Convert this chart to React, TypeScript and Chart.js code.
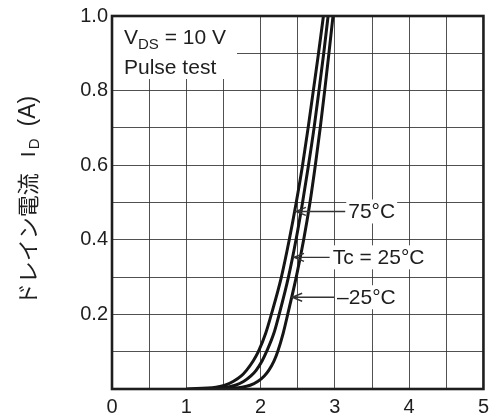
import React, { useEffect, useRef } from 'react';
import { Chart, registerables } from 'chart.js';

Chart.register(...registerables);

const CURRENT_LEVELS = [0, 0.005, 0.01, 0.02, 0.035, 0.05, 0.075, 0.1, 0.15, 0.2, 0.3, 0.4, 0.5, 0.6, 0.7, 0.8, 0.9, 1.0];
// Gate-source voltage (V) for each curve at those current levels
const VGS_75C = [1.0, 1.4, 1.52, 1.63, 1.74, 1.81, 1.9, 1.97, 2.07, 2.145, 2.28, 2.386, 2.48, 2.565, 2.64, 2.71, 2.78, 2.846];
const VGS_25C = [1.15, 1.55, 1.66, 1.77, 1.87, 1.94, 2.02, 2.08, 2.18, 2.25, 2.375, 2.477, 2.565, 2.645, 2.72, 2.786, 2.85, 2.909];
const VGS_M25C = [1.35, 1.75, 1.86, 1.96, 2.05, 2.11, 2.18, 2.23, 2.305, 2.365, 2.48, 2.58, 2.665, 2.737, 2.803, 2.863, 2.92, 2.975];

const X_TICK_LABELS = ['0', '1', '2', '3', '4', '5'];
const Y_TICK_LABELS = ['0.2', '0.4', '0.6', '0.8', '1.0'];

// Curve callouts
const CURVE_LABELS = ['75°C', 'Tc = 25°C', '–25°C'];
const LABEL_CURRENT = [0.476, 0.353, 0.246];
const ARROW_TIP_V = [2.475, 2.45, 2.425];
const LABEL_TEXT_V = [3.18, 2.97, 3.03];

const CONDITION_LINE1 = { main: 'V', sub: 'DS', rest: ' = 10 V' };
const CONDITION_LINE2 = 'Pulse test';
const Y_TITLE = { jp: 'ドレイン電流', main: 'I', sub: 'D', rest: '(A)' };

const LATIN = '"Liberation Sans", Arial, Helvetica, sans-serif';
const CJK = '"Noto Sans CJK JP", "Noto Sans", sans-serif';
const INK = '#1e1e1e';

function toPoints(xs: number[]) {
  return xs.map((x, i) => ({ x, y: CURRENT_LEVELS[i] }));
}

const decor = {
  id: 'decor',
  beforeDatasetsDraw(chart: any) {
    const { ctx, chartArea } = chart;
    const { left, top } = chartArea;
    ctx.save();
    ctx.font = `21px ${LATIN}`;
    const w2 = ctx.measureText(CONDITION_LINE2).width;
    const wV = ctx.measureText(CONDITION_LINE1.main).width;
    const wR = ctx.measureText(CONDITION_LINE1.rest).width;
    ctx.font = `15px ${LATIN}`;
    const wS = ctx.measureText(CONDITION_LINE1.sub).width;
    const w1 = wV + wS + wR;
    const tx = left + 12;
    ctx.fillStyle = '#ffffff';
    ctx.fillRect(left + 1, top + 1, Math.max(w1, w2) + 22, 62);
    ctx.fillStyle = INK;
    ctx.textBaseline = 'alphabetic';
    ctx.textAlign = 'left';
    const b1 = top + 28;
    ctx.font = `21px ${LATIN}`;
    ctx.fillText(CONDITION_LINE1.main, tx, b1);
    ctx.font = `15px ${LATIN}`;
    ctx.fillText(CONDITION_LINE1.sub, tx + wV, b1 + 5);
    ctx.font = `21px ${LATIN}`;
    ctx.fillText(CONDITION_LINE1.rest, tx + wV + wS, b1);
    ctx.fillText(CONDITION_LINE2, tx, top + 58);
    ctx.restore();
  },
  afterDatasetsDraw(chart: any) {
    const { ctx, chartArea, scales } = chart;
    const { left, top, right, bottom } = chartArea;
    const xs = scales.x;
    const ys = scales.y;
    ctx.save();
    // frame
    ctx.strokeStyle = INK;
    ctx.lineWidth = 2.6;
    ctx.strokeRect(left, top, right - left, bottom - top);

    // callouts
    ctx.font = `21px ${LATIN}`;
    ctx.textBaseline = 'middle';
    ctx.textAlign = 'left';
    CURVE_LABELS.forEach((label, i) => {
      const y = ys.getPixelForValue(LABEL_CURRENT[i]);
      const tip = xs.getPixelForValue(ARROW_TIP_V[i]);
      const tx = xs.getPixelForValue(LABEL_TEXT_V[i]);
      const w = ctx.measureText(label).width;
      ctx.fillStyle = '#ffffff';
      ctx.fillRect(tx - 2, y - 12, w + 4, 24);
      ctx.fillStyle = INK;
      ctx.fillText(label, tx, y + 1);
      ctx.strokeStyle = '#333';
      ctx.lineWidth = 1.4;
      ctx.beginPath();
      ctx.moveTo(tx - 3, y);
      ctx.lineTo(tip, y);
      ctx.moveTo(tip + 10, y - 4);
      ctx.lineTo(tip, y);
      ctx.lineTo(tip + 10, y + 4);
      ctx.stroke();
    });

    // y axis title (rotated, with subscript), centred on the plot
    const cy = (top + bottom) / 2;
    ctx.translate(35, cy);
    ctx.rotate(-Math.PI / 2);
    ctx.textBaseline = 'alphabetic';
    ctx.textAlign = 'left';
    ctx.font = `22px ${CJK}`;
    const wJ = ctx.measureText(Y_TITLE.jp).width;
    ctx.font = `21px ${LATIN}`;
    const wI = ctx.measureText(Y_TITLE.main).width;
    ctx.font = `15px ${LATIN}`;
    const wD = ctx.measureText(Y_TITLE.sub).width;
    ctx.font = `23px ${LATIN}`;
    const wA = ctx.measureText(Y_TITLE.rest).width;
    const gap1 = 16;
    const gap2 = 12;
    const total = wJ + gap1 + wI + 2 + wD + gap2 + wA;
    let x = -total / 2 + 2;
    ctx.fillStyle = INK;
    ctx.font = `22px ${CJK}`;
    ctx.fillText(Y_TITLE.jp, x, 1);
    x += wJ + gap1;
    ctx.font = `21px ${LATIN}`;
    ctx.fillText(Y_TITLE.main, x, 0);
    x += wI + 2;
    ctx.font = `15px ${LATIN}`;
    ctx.fillText(Y_TITLE.sub, x, 4);
    x += wD + gap2;
    ctx.font = `23px ${LATIN}`;
    ctx.fillText(Y_TITLE.rest, x, 0);
    ctx.restore();
  },
};

export default function App() {
  const ref = useRef<HTMLCanvasElement | null>(null);
  useEffect(() => {
    if (!ref.current) return;
    const curveStyle = {
      showLine: true,
      borderColor: '#151515',
      borderWidth: 3,
      pointRadius: 0,
      cubicInterpolationMode: 'monotone' as const,
      fill: false,
    };
    const chart = new Chart(ref.current, {
      type: 'scatter',
      data: {
        datasets: [
          { label: '75°C', data: toPoints(VGS_75C), ...curveStyle },
          { label: 'Tc = 25°C', data: toPoints(VGS_25C), ...curveStyle },
          { label: '–25°C', data: toPoints(VGS_M25C), ...curveStyle },
        ],
      },
      options: {
        responsive: false,
        animation: false,
        devicePixelRatio: 1,
        layout: { padding: { top: 15, right: 10, left: 0, bottom: 0 } },
        plugins: { legend: { display: false }, tooltip: { enabled: false } },
        scales: {
          x: {
            type: 'linear',
            min: 0,
            max: 5,
            afterFit: (s: any) => {
              s.height = 29;
            },
            border: { display: false },
            grid: { color: 'rgba(50,50,50,0.85)', lineWidth: 1, drawTicks: false },
            ticks: {
              stepSize: 0.5,
              padding: 6,
              autoSkip: false,
              maxRotation: 0,
              color: INK,
              font: { family: LATIN, size: 20 },
              callback: (v: any) => {
                const s = String(Number(v));
                return X_TICK_LABELS.includes(s) ? s : '';
              },
            },
          },
          y: {
            type: 'linear',
            min: 0,
            max: 1,
            afterFit: (s: any) => {
              s.width = 112;
            },
            border: { display: false },
            grid: { color: 'rgba(50,50,50,0.85)', lineWidth: 1, drawTicks: false },
            ticks: {
              stepSize: 0.1,
              padding: 4,
              autoSkip: false,
              color: INK,
              font: { family: LATIN, size: 20 },
              callback: (v: any) => {
                const s = (Math.round(Number(v) * 10) / 10).toFixed(1);
                return Y_TICK_LABELS.includes(s) ? s : '';
              },
            },
          },
        },
      },
      plugins: [decor],
    } as any);
    return () => chart.destroy();
  }, []);
  return (
    <div style={{ position: 'absolute', left: 0, top: 0, width: 495, height: 418, background: '#fff' }}>
      <canvas ref={ref} width={495} height={418} style={{ display: 'block' }} />
    </div>
  );
}
